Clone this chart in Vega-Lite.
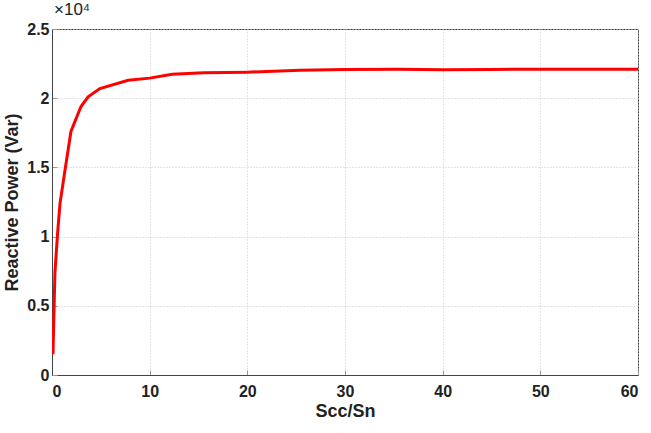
{
  "$schema": "https://vega.github.io/schema/vega-lite/v6.json",
  "autosize": "none",
  "width": 586,
  "height": 346,
  "padding": {"left": 52, "top": 29, "right": 13, "bottom": 58},
  "background": "white",
  "config": {
    "view": {"stroke": "#444", "strokeWidth": 1},
    "font": "Liberation Sans"
  },
  "title": {
    "text": "×10⁴",
    "anchor": "start",
    "frame": "group",
    "fontSize": 17,
    "fontWeight": "normal",
    "color": "#222",
    "offset": 2,
    "dx": 2
  },
  "data": {
    "values": [
      {"ratio": 0.1, "q": 1500},
      {"ratio": 0.3, "q": 7400},
      {"ratio": 0.58, "q": 10300},
      {"ratio": 0.82, "q": 12400},
      {"ratio": 1.33, "q": 14800},
      {"ratio": 1.94, "q": 17600},
      {"ratio": 2.97, "q": 19400},
      {"ratio": 3.7, "q": 20100},
      {"ratio": 4.9, "q": 20700},
      {"ratio": 7.8, "q": 21300},
      {"ratio": 10, "q": 21450},
      {"ratio": 12.3, "q": 21730},
      {"ratio": 15.5, "q": 21830},
      {"ratio": 20, "q": 21880},
      {"ratio": 25.4, "q": 22020},
      {"ratio": 30, "q": 22080},
      {"ratio": 35.6, "q": 22090},
      {"ratio": 40, "q": 22060},
      {"ratio": 45, "q": 22080},
      {"ratio": 50, "q": 22100},
      {"ratio": 55, "q": 22100},
      {"ratio": 60, "q": 22100}
    ]
  },
  "mark": {"type": "line", "color": "#ff0000", "strokeWidth": 3, "clip": true},
  "encoding": {
    "x": {
      "field": "ratio",
      "type": "quantitative",
      "scale": {"domain": [0, 60], "nice": false},
      "axis": {
        "title": "Scc/Sn",
        "values": [0, 10, 20, 30, 40, 50, 60],
        "grid": true,
        "gridColor": "#c8c8c8",
        "gridDash": [1, 2],
        "domainColor": "#444",
        "tickSize": -5,
        "tickColor": "#999",
        "labelFont": "Liberation Sans",
        "labelFontWeight": "bold",
        "labelFontSize": 16,
        "labelColor": "#222",
        "labelPadding": 13,
        "titleFont": "Liberation Sans",
        "titleFontWeight": "bold",
        "titleFontSize": 18,
        "titleColor": "#222",
        "titlePadding": 3
      }
    },
    "y": {
      "field": "q",
      "type": "quantitative",
      "scale": {"domain": [0, 25000], "nice": false},
      "axis": {
        "title": "Reactive Power (Var)",
        "values": [0, 5000, 10000, 15000, 20000, 25000],
        "labelExpr": "datum.value / 10000",
        "grid": true,
        "gridColor": "#c8c8c8",
        "gridDash": [1, 2],
        "domainColor": "#444",
        "tickSize": -5,
        "tickColor": "#999",
        "labelFont": "Liberation Sans",
        "labelFontWeight": "bold",
        "labelFontSize": 16,
        "labelColor": "#222",
        "labelPadding": 8,
        "titleFont": "Liberation Sans",
        "titleFontWeight": "bold",
        "titleFontSize": 18,
        "titleColor": "#222",
        "titlePadding": 5
      }
    }
  }
}
